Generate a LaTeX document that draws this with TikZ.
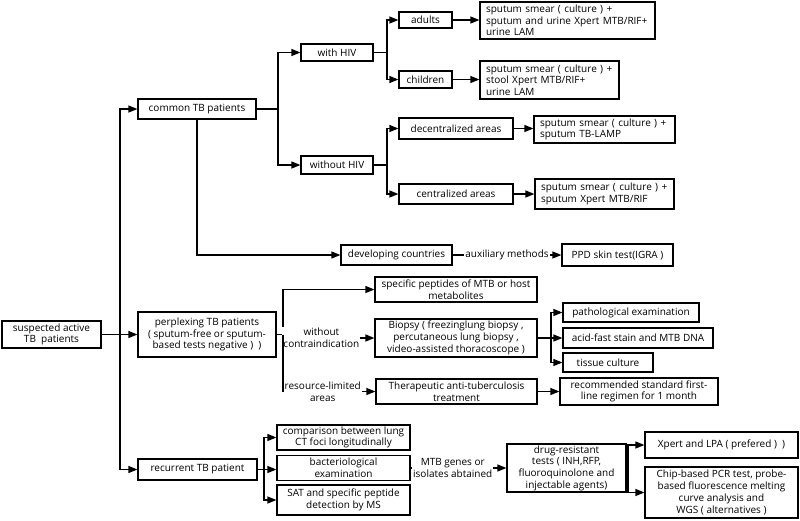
\documentclass[tikz,border=0pt]{standalone}
\usepackage{fontspec}
\setmainfont{Open Sans}
\usetikzlibrary{arrows.meta}

\begin{document}
\begin{tikzpicture}[x=1pt,y=-1pt,line width=1.2pt,
	box/.style={draw,inner sep=1.5pt,align=center,font=\fontsize{10}{11.7}\selectfont},
	lbox/.style={box,align=left,inner xsep=6pt},
	lbl/.style={fill=white,inner sep=1pt,align=center,font=\fontsize{10}{11.7}\selectfont},
	arr/.style={-{Triangle[length=9pt,width=7pt]}}]
	
	\useasboundingbox (0,0) rectangle (800,520);
	
	% first level
	\node[box,minimum width=99pt,minimum height=27pt] (suspect) at (51.5,334.5) {suspected active\\TB~ patients};
	\node[box,minimum width=118pt,minimum height=20pt] (common) at (197,109) {common TB patients};
	\node[box,minimum width=138pt,minimum height=45pt] (perplex) at (207,334.5) {perplexing TB patients\\( sputum-free or sputum-\\based tests negative )~ )};
	\node[box,minimum width=119pt,minimum height=21pt] (recur) at (197.5,469.5) {recurrent TB patient};
	
	% common TB patients
	\node[box,minimum width=72pt,minimum height=17pt] (withhiv) at (337,52.5) {with HIV};
	\node[box,minimum width=72pt,minimum height=18pt] (nohiv) at (337,165) {without HIV};
	\node[box,minimum width=53pt,minimum height=16pt] (adults) at (425.5,20) {adults};
	\node[box,minimum width=53pt,minimum height=17pt] (children) at (425.5,79.5) {children};
	\node[lbox,text width=163pt,minimum height=37pt] (adultsres) at (567.5,20.5) {sputum smear ( culture ) +\\sputum and urine Xpert MTB/RIF+\\urine LAM};
	\node[lbox,text width=127pt,minimum height=38pt] (childres) at (549.5,80) {sputum smear ( culture ) +\\stool Xpert MTB/RIF+\\urine LAM};
	\node[box,minimum width=114pt,minimum height=21pt] (decent) at (456,128.5) {decentralized areas};
	\node[box,minimum width=114pt,minimum height=20pt] (cent) at (456,194) {centralized areas};
	\node[lbox,text width=129pt,minimum height=27pt] (decentres) at (604.5,129.5) {sputum smear ( culture ) +\\sputum TB-LAMP};
	\node[lbox,text width=127pt,minimum height=30pt] (centres) at (604.5,194) {sputum smear ( culture ) +\\sputum Xpert MTB/RIF};
	\node[box,minimum width=111pt,minimum height=20pt] (develop) at (396.5,255) {developing countries};
	\node[box,minimum width=111pt,minimum height=22pt] (ppd) at (617.5,255) {PPD skin test(IGRA )};
	
	% perplexing TB patients
	\node[box,minimum width=162pt,minimum height=25pt] (peptides) at (456,289.5) {specific peptides of MTB or host\\metabolites};
	\node[box,minimum width=162pt,minimum height=38pt] (biopsy) at (456,338) {Biopsy ( freezinglung biopsy ,\\percutaneous lung biopsy ,\\video-assisted thoracoscope )};
	\node[box,minimum width=161pt,minimum height=25pt] (therapy) at (456.5,391.5) {Therapeutic anti-tuberculosis\\treatment};
	\node[box,minimum width=136pt,minimum height=19pt] (patho) at (631,312.5) {pathological examination};
	\node[box,minimum width=150pt,minimum height=20pt] (acidfast) at (638,338) {acid-fast stain and MTB DNA};
	\node[box,minimum width=90pt,minimum height=19pt] (tissue) at (608,362.5) {tissue culture};
	\node[box,minimum width=158pt,minimum height=27pt] (regimen) at (639,391.5) {recommended standard first-\\line regimen for 1 month};
	
	% recurrent TB patient
	\node[box,minimum width=133pt,minimum height=25pt] (compare) at (343.5,437.5) {comparison between lung\\CT foci longitudinally};
	\node[box,minimum width=133pt,minimum height=25pt] (bacter) at (343.5,468) {bacteriological\\examination};
	\node[box,minimum width=133pt,minimum height=30pt] (satms) at (343.5,500) {SAT and specific peptide\\detection by MS};
	\node[box,minimum width=119pt,minimum height=46pt] (drugres) at (566.5,468) {drug-resistant\\tests ( INH,RFP,\\fluoroquinolone and\\injectable agents)};
	\node[box,minimum width=153pt,minimum height=26pt] (xpert) at (721.5,445) {Xpert and LPA ( prefered )~ )};
	\node[box,minimum width=153pt,minimum height=51pt] (chip) at (721.5,492.5) {Chip-based PCR test, probe-\\based fluorescence melting\\curve analysis and\\WGS ( alternatives )};
	
	% forks
	\coordinate (trunk) at (120,334.5);
	\coordinate (hivfork) at (278,109);
	\coordinate (agefork) at (387,52.5);
	\coordinate (areafork) at (387,165);
	\coordinate (perpfork) at (283,334.5);
	\coordinate (biofork) at (551,338);
	\coordinate (recfork) at (264,469.5);
	\coordinate (drugfork) at (628,468);
	
	\draw[arr] (suspect) -- (perplex);
	\draw[arr] (trunk) |- (common.west);
	\draw[arr] (trunk) |- (recur.west);
	
	\draw (common.east) -- (hivfork);
	\draw[arr] (hivfork) |- (withhiv.west);
	\draw[arr] (hivfork) |- (nohiv.west);
	\draw (withhiv.east) -- (agefork);
	\draw[arr] (agefork) |- (adults.west);
	\draw[arr] (agefork) |- (children.west);
	\draw[arr] (adults) -- (adults -| adultsres.west);
	\draw[arr] (children) -- (children -| childres.west);
	\draw (nohiv.east) -- (areafork);
	\draw[arr] (areafork) |- (decent.west);
	\draw[arr] (areafork) |- (cent.west);
	\draw[arr] (decent) -- (decent -| decentres.west);
	\draw[arr] (cent) -- (centres);
	\draw[arr] (common.south) |- (develop.west);
	\draw[arr] (develop) -- node[lbl]{auxiliary methods} (ppd);
	
	\draw (perplex.east) -- (perpfork);
	\draw[arr] (perpfork) |- (peptides.west);
	\draw[arr] (perpfork |- biopsy.west) -- node[lbl,pos=0.42]{without\\contraindication} (biopsy.west);
	\draw[arr] (perpfork) |- node[lbl,pos=0.715]{resource-limited\\areas} (therapy.west);
	\draw (biopsy.east) -- (biofork);
	\draw[arr] (biofork) |- (patho.west);
	\draw[arr] (biofork) -- (acidfast.west);
	\draw[arr] (biofork) |- (tissue.west);
	\draw[arr] (therapy) -- (regimen);
	
	\draw (recur.east) -- (recfork);
	\draw[arr] (recfork) |- (compare.west);
	\draw[arr] (recfork) -- (recfork -| bacter.west);
	\draw[arr] (recfork) |- (satms.west);
	\draw[arr] (bacter) -- node[lbl,pos=0.44]{MTB genes or\\isolates abtained} (drugres);
	\draw (drugres.east) -- (drugfork);
	\draw[arr] (drugfork) |- (xpert.west);
	\draw[arr] (drugfork) |- (chip.west);
	
\end{tikzpicture}
\end{document}
